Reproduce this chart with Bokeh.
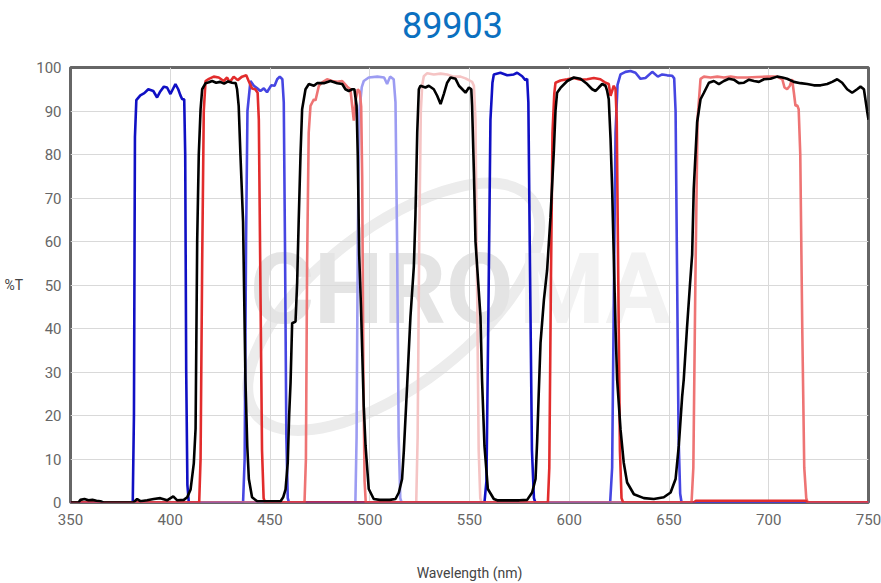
from bokeh.plotting import figure
from bokeh.models import Range1d, FixedTicker, Label, Div
from bokeh.layouts import column
from bokeh.embed import file_html
from bokeh.resources import INLINE

title_text = "89903"
x_ticks = [350, 400, 450, 500, 550, 600, 650, 700, 750]
y_ticks = [0, 10, 20, 30, 40, 50, 60, 70, 80, 90, 100]

dark_blue = [(350,0),(381.2,0),(381.8,20),(382.3,84),(383,92.5),(385,93.6),(387,94.1),(389,95),(391.5,94.6),
             (393.4,93.1),(395,94.5),(396.8,95.6),(398.4,95.4),(400.1,93.9),(402.6,96.2),(404,95),(405.1,93.6),
             (406,92.7),(407,92.7),(407.5,80),(408,30),(408.6,4),(409.3,0),(557.5,0),(558.5,5),(559.5,45),
             (560.5,88),(561.5,96.5),(562.2,98.4),(565.5,98.8),(568.9,98.2),(572.2,98.4),(573.9,98.8),(576.4,98),
             (578,97.1),(578.9,97.4),(579.5,92),(580.3,55),(581.3,12),(582.3,1),(583,0),(750,0)]

medium_blue = [(350,0),(436.5,0),(437.3,10),(438,60),(438.7,90),(440.2,96.9),(441.9,95.8),(443.6,95.2),(445.2,94.6),
               (446.9,95.2),(448.5,94.3),(450.6,95.9),(452.3,95.8),(453.6,97.3),(454.9,97.9),(456.2,97.3),(456.9,92),
               (457.5,60),(458.2,15),(458.9,1),(459.5,0),(620.5,0),(621.5,8),(622.3,45),(623.2,85),(624.2,96),
               (625.7,98.4),(628.2,99),(630.7,99.2),(633.2,98.8),(635.7,97.4),(638.2,97.6),(641.6,99),(644.4,97.9),
               (646.6,98.4),(649.1,98.2),(651.6,98.1),(652.6,97.5),(653.3,90),(654,55),(654.8,15),(655.6,2),
               (656.3,0),(750,0)]

lavender = [(350,0),(492.8,0),(493.4,15),(494,60),(494.8,90),(496,95.5),(497,96.9),(499.5,97.7),(503.8,97.9),
            (507.2,97.7),(508.7,96.2),(510.2,97.9),(512,97.3),(512.9,92),(513.7,60),(514.5,15),(515.3,1),(516,0),
            (750,0)]

red = [(350,0),(414.5,0),(415.2,10),(416,55),(416.8,90),(417.7,96.9),(419.4,97.4),(421.8,97.9),(424.3,97.7),
       (426.8,96.9),(428.5,97.7),(429.8,96.6),(431.8,97.9),(433.8,97.1),(436,97.9),(438.1,98.2),(439.3,96.9),
       (441,95.2),(442.6,95),(443.8,94.2),(444.4,88),(445.2,50),(446,12),(446.8,1),(447.5,0),(589.3,0),(590,8),
       (590.8,50),(591.6,85),(592.5,94),(593.1,96.5),(595.6,97),(599,97.3),(602.3,97.6),(605.6,97.2),(609,97.3),
       (612.3,97.6),(615.6,97.3),(618.2,96.5),(619.8,96.2),(620.7,93.5),(622.3,95.8),(623.2,95),(623.8,88),
       (624.6,50),(625.4,12),(626.2,1),(627,0),(662.5,0),(663.5,0.4),(718.5,0.4),(719.5,0),(750,0)]

salmon = [(350,0),(467.3,0),(468,10),(468.6,55),(469.4,85),(470.3,91.2),(472,92.7),(472.8,92.4),(474.5,95.8),
          (476.2,96.6),(478.6,97.3),(481.2,96.9),(483.7,96.7),(486.2,96.9),(488.7,95.6),(490.3,95),(491.2,91.2),
          (492,87.8),(492.9,92.4),(494,95),(495,94.4),(495.7,91),(496.2,75),(496.8,30),(497.4,5),(498,0),
          (661.3,0),(662.2,8),(663.2,50),(664.3,88),(665.8,97.4),(667.5,97.9),(670.8,97.7),(674.2,97.9),
          (677.5,97.7),(680.9,97.9),(684.2,97.7),(689.2,97.7),(694.2,97.8),(699.2,97.9),(704.2,97.9),(706.8,97.3),
          (707.9,95.4),(709.2,95),(710.6,95.8),(711.7,97.3),(712.6,94.2),(713.4,91.2),(714.3,91.3),(715,90.4),
          (715.8,80),(716.8,40),(717.8,8),(718.8,1),(719.5,0),(750,0)]

pink = [(350,0),(523.3,0),(524,15),(524.8,60),(525.6,90),(526.3,96),(527.1,98),(528.8,98.7),(532.1,98.4),
        (535.5,98.6),(538.8,98.4),(542.1,97.9),(545.5,97.9),(548,97.5),(551.3,96.7),(552.2,95.8),(553,88),
        (553.8,50),(554.6,12),(555.4,1),(556,0),(750,0)]

black = [(350,0),(354,0),(355,0.6),(357,0.8),(359,0.5),(361,0.6),(363,0.4),(365,0.3),(366.5,0),(381.5,0),
         (383.4,0.8),(385,0.3),(388.4,0.5),(391.7,0.8),(395,1.0),(398.4,0.5),(401.5,1.4),(403.5,0.5),(406.8,0.6),
         (408.5,1.2),(410.2,3),(411.8,9),(412.7,17),(413.5,60),(414.3,80),(415.2,90.4),(416,95),(417.7,96.4),
         (419.4,96.6),(421,96.9),(423,96.5),(425,96.7),(427,96.3),(429,96.8),(431,96.5),(432.8,96.4),(433.5,95),
         (434.3,91.2),(435.2,79.7),(436.5,64.5),(437.7,28),(438.6,13),(439.4,5.4),(441,1.2),(443.6,0.3),
         (455.3,0.3),(456.6,1.2),(457.8,3),(458.9,9.2),(459.6,20),(460.3,27.5),(461.1,41.2),(462.8,41.6),
         (463.6,50.4),(464.4,65),(465.3,80),(466.1,90.4),(467.8,95),(469.5,96.2),(472,95.8),(473.6,96.4),
         (477,96.4),(480.3,96.9),(483.7,96.4),(486.2,96.2),(487.8,95),(489.5,94.6),(491.2,95),(492.3,95),
         (493.4,91.2),(494,79.7),(494.7,57),(495.6,45),(497,22),(497.9,13),(499.5,3.1),(502,0.8),(505,0.6),
         (510,0.6),(512.9,0.8),(514.6,2.3),(516.2,5.4),(517.1,12),(518.8,27.5),(520.4,42.7),(522.1,54.2),
         (522.9,66),(523.8,85),(524.6,95),(525.4,95.8),(527.9,95.4),(529.6,95.8),(532.1,95),(533.8,93.5),
         (535.5,91.6),(537.2,94),(538.8,96.5),(540.5,97.7),(543,97.4),(544.7,95.8),(546.4,95),(548,94.2),
         (549.7,95.4),(550.9,95),(551.3,91.2),(552.2,76),(553,60),(555.5,42.7),(556.3,28),(557.5,13),
         (559.2,3.1),(562.2,0.8),(563.9,0.5),(575,0.5),(578.9,0.6),(581.4,2.3),(583.1,5.4),(583.9,14),
         (584.7,25),(585.6,36.7),(587.3,46.6),(588.9,53.4),(590.6,65.6),(592.3,81),(593.1,90),(593.9,94.2),
         (595.6,95.3),(599,96.9),(602.3,97.7),(605.6,97.4),(609,96.2),(611.5,95),(613.2,94.6),(614.8,95.4),
         (616.5,96.2),(618.2,95.8),(619,94.6),(619.8,92.7),(620.7,83.6),(621.5,72.1),(622.3,56.9),(623.2,40),
         (624,28.3),(625.7,16.8),(627.3,9.2),(629,4.6),(632.4,1.9),(637.4,1),(642.4,0.8),(647.4,1.2),
         (650.8,2.3),(653.3,5.4),(654.9,13),(656.6,24.4),(657.4,28.3),(659,40),(660.5,50),(661.6,57),
         (662.4,72.1),(664.1,87.4),(665.8,92.7),(667.5,94.2),(670,96.5),(672.5,96.9),(675,96.2),(677.5,96.9),
         (680,97.4),(682.5,97.2),(685,96.4),(687.6,96.5),(690.1,97.2),(692.6,96.9),(695.1,96.7),(697.6,97.3),
         (700.9,97.4),(704.2,97.9),(706.8,97.7),(709.2,97.4),(712.6,96.7),(715.9,96.4),(719.3,96.2),
         (722.6,95.9),(726,95.9),(729.3,96.2),(731.8,96.7),(734.3,97.3),(736.8,96.5),(739.3,95),(741.8,94.2),
         (744.3,95),(746,95.6),(747.7,95),(749.4,89.7),(750,88)]

series = [
    (lavender, "#9c9cf2"),
    (pink, "#f5c4c4"),
    (medium_blue, "#4646e2"),
    (dark_blue, "#1010c4"),
    (salmon, "#ee7474"),
    (red, "#e22c2c"),
    (black, "#000000"),
]

# title as an HTML block above the plot
title_div = Div(
    text=('<div style="position:relative; left:12px; width:881px; text-align:center; '
          'font-family:Roboto; font-size:36px; line-height:52px; color:#0b70c0;">'
          + title_text + '</div>'),
    width=881, height=52, margin=0)

p = figure(width=881, height=531, x_range=Range1d(350, 750), y_range=Range1d(0, 100),
           output_backend="svg", toolbar_location=None, title=None,
           min_border_left=70, min_border_right=13, min_border_top=15, min_border_bottom=80)
p.margin = 0

# watermark (decoration), below the grid
p.ellipse(x=[512], y=[45], width=[175], height=[36], angle=0.66,
          fill_color=None, line_color="#ececec", line_width=11, level="image")
p.add_layout(Label(x=506, y=48.9, text="CHRO", text_font="Roboto", text_font_style="bold",
                   text_font_size="98px", text_color="#e4e4e4", text_align="center",
                   text_baseline="middle", level="image"))
p.add_layout(Label(x=613, y=48.9, text="MA", text_font="Roboto", text_font_style="bold",
                   text_font_size="98px", text_color="#f2f2f2", text_align="center",
                   text_baseline="middle", level="image"))

for data, col in series:
    wl = [d[0] for d in data]
    tr = [d[1] for d in data]
    p.line(wl, tr, line_color=col, line_width=2.6)

p.outline_line_color = "#666666"
p.outline_line_width = 3

p.xaxis.ticker = FixedTicker(ticks=x_ticks)
p.yaxis.ticker = FixedTicker(ticks=y_ticks)
for ax in (p.xaxis[0], p.yaxis[0]):
    ax.axis_line_color = None
    ax.major_tick_line_color = None
    ax.minor_tick_line_color = None
    ax.major_label_text_font = "Roboto"
    ax.major_label_text_font_size = "15px"
    ax.major_label_text_color = "#666666"
p.xaxis.major_label_standoff = 5
p.yaxis.major_label_standoff = 3

p.xaxis.axis_label = "Wavelength (nm)"
p.xaxis.axis_label_text_font = "Roboto"
p.xaxis.axis_label_text_font_style = "normal"
p.xaxis.axis_label_text_font_size = "14px"
p.xaxis.axis_label_text_color = "#444444"
p.xaxis.axis_label_standoff = 37

yax = p.yaxis[0]
yax.axis_label = "%T"
yax.axis_label_text_font = "Roboto"
yax.axis_label_text_font_style = "normal"
yax.axis_label_text_font_size = "14px"
yax.axis_label_text_color = "#444444"
yax.axis_label_standoff = 10
if hasattr(yax, "axis_label_orientation"):
    yax.axis_label_orientation = "horizontal"

p.xgrid.grid_line_color = "#d9d9d9"
p.ygrid.grid_line_color = "#d9d9d9"
p.xgrid.grid_line_width = 1
p.ygrid.grid_line_width = 1

layout = column(title_div, p, spacing=0)
open("out.html", "w").write(file_html(layout, INLINE))
